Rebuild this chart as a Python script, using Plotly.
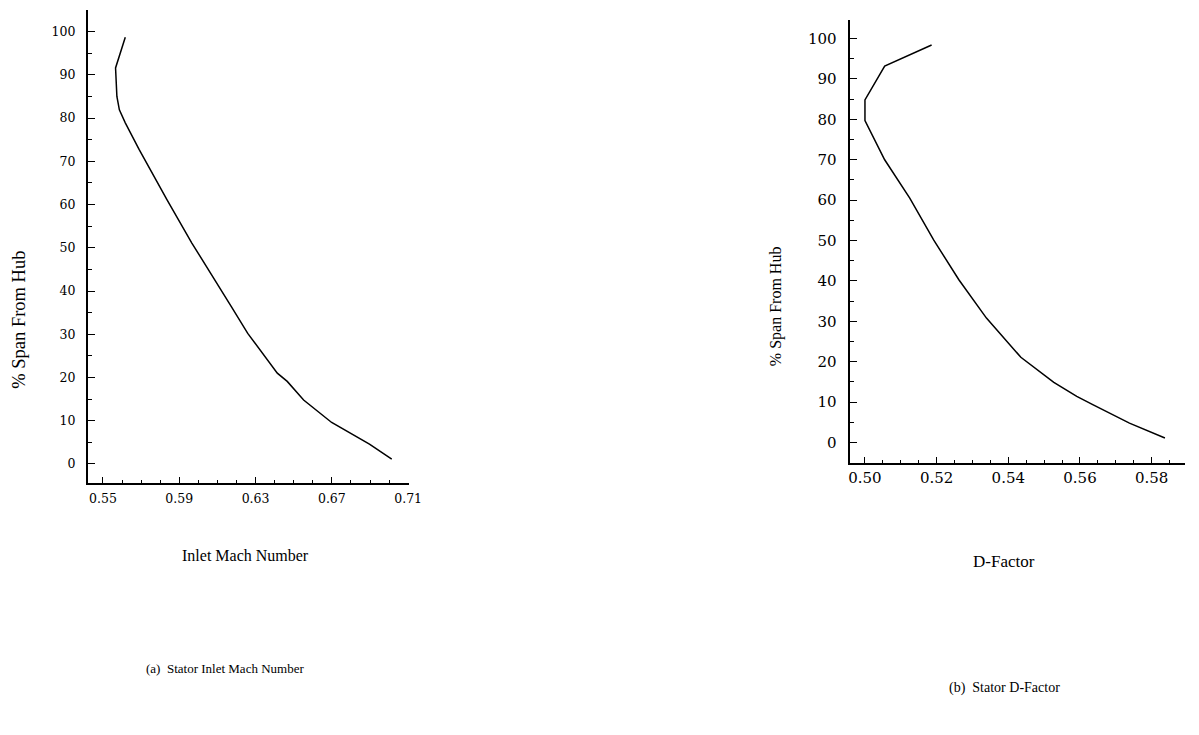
import plotly.graph_objects as go

# Panel (a): Stator inlet Mach number vs % span
mach = [0.5617, 0.5566, 0.5573, 0.5586, 0.5617, 0.5690, 0.5836, 0.5966, 0.6173, 0.6259,
        0.6414, 0.6466, 0.6552, 0.6699, 0.6897, 0.7014]
span_a = [98.7, 91.6, 85.0, 81.9, 78.9, 72.7, 61.1, 51.1, 36.4, 30.2,
          21.0, 19.1, 14.8, 9.6, 4.6, 1.1]

# Panel (b): Stator D-factor vs % span
dfac = [0.5186, 0.5055, 0.5000, 0.5000, 0.5055, 0.5125, 0.5192, 0.5262, 0.5339, 0.5435,
        0.5527, 0.5591, 0.5637, 0.5738, 0.5837]
span_b = [98.4, 93.2, 84.8, 79.7, 70.0, 60.5, 50.1, 40.3, 30.8, 21.1,
          14.9, 11.4, 9.3, 4.8, 1.1]

W, H = 1199, 735
FONT = "Liberation Serif"
TFONT = "DejaVu Serif"

def px(x):
    return x / W

def py(y):
    return 1 - y / H

fig = go.Figure()
fig.add_trace(go.Scatter(x=mach, y=span_a, mode="lines", line=dict(color="black", width=1.5),
                         xaxis="x", yaxis="y", showlegend=False, hoverinfo="skip"))
fig.add_trace(go.Scatter(x=dfac, y=span_b, mode="lines", line=dict(color="black", width=1.5),
                         xaxis="x2", yaxis="y2", showlegend=False, hoverinfo="skip"))

def xax(domain, rng, tick0, dtick, mdtick, size, standoff, anchor):
    return dict(domain=domain, range=rng, anchor=anchor, showline=True, linecolor="black",
                linewidth=2, showgrid=False, zeroline=False, ticks="inside", ticklen=6,
                tickwidth=1.2, tickcolor="black", tick0=tick0, dtick=dtick,
                tickformat=".2f", ticklabelstandoff=standoff,
                tickfont=dict(family=TFONT, size=size, color="black"),
                minor=dict(ticks="inside", ticklen=3, tickwidth=1, tickcolor="black",
                           tick0=tick0, dtick=mdtick, showgrid=False))

def yax(domain, rng, size, standoff, anchor):
    return dict(domain=domain, range=rng, anchor=anchor, showline=True, linecolor="black",
                linewidth=2, showgrid=False, zeroline=False, ticks="inside", ticklen=7,
                tickwidth=1.2, tickcolor="black", tick0=0, dtick=10,
                ticklabelstandoff=standoff,
                tickfont=dict(family=TFONT, size=size, color="black"),
                minor=dict(ticks="inside", ticklen=4, tickwidth=1, tickcolor="black",
                           tick0=0, dtick=5, showgrid=False))

fig.update_layout(
    width=W, height=H, margin=dict(l=0, r=0, t=0, b=0),
    paper_bgcolor="white", plot_bgcolor="white",
    xaxis=xax([px(88), px(412.7)], [0.5421, 0.7102], 0.55, 0.04, 0.01, 12.5, 3, "y"),
    yaxis=yax([py(483), py(10)], [-4.4, 105.0], 12.5, 8, "x"),
    xaxis2=xax([px(859.3), 1.0], [0.4957, 0.5893], 0.50, 0.02, 0.005, 15, 0, "y2"),
    yaxis2=yax([py(462.7), py(20)], [-5.0, 104.6], 15, 8, "x2"),
)

annos = [
    dict(text="% Span From Hub", x=px(18), y=py(320), textangle=-90, size=18.5),
    dict(text="Inlet Mach Number", x=px(248), y=py(555), textangle=0, size=16),
    dict(text="(a)  Stator Inlet Mach Number", x=px(227), y=py(668), textangle=0, size=13),
    dict(text="% Span From Hub", x=px(785), y=py(306), textangle=-90, size=16),
    dict(text="D-Factor", x=px(1016), y=py(561), textangle=0, size=17),
    dict(text="(b)  Stator D-Factor", x=px(1016), y=py(688), textangle=0, size=14),
]
for a in annos:
    fig.add_annotation(text=a["text"], x=a["x"], y=a["y"], xref="paper", yref="paper",
                       showarrow=False, textangle=a["textangle"], xanchor="center",
                       yanchor="middle", font=dict(family=FONT, size=a["size"], color="black"))

fig.write_html("out.html")
